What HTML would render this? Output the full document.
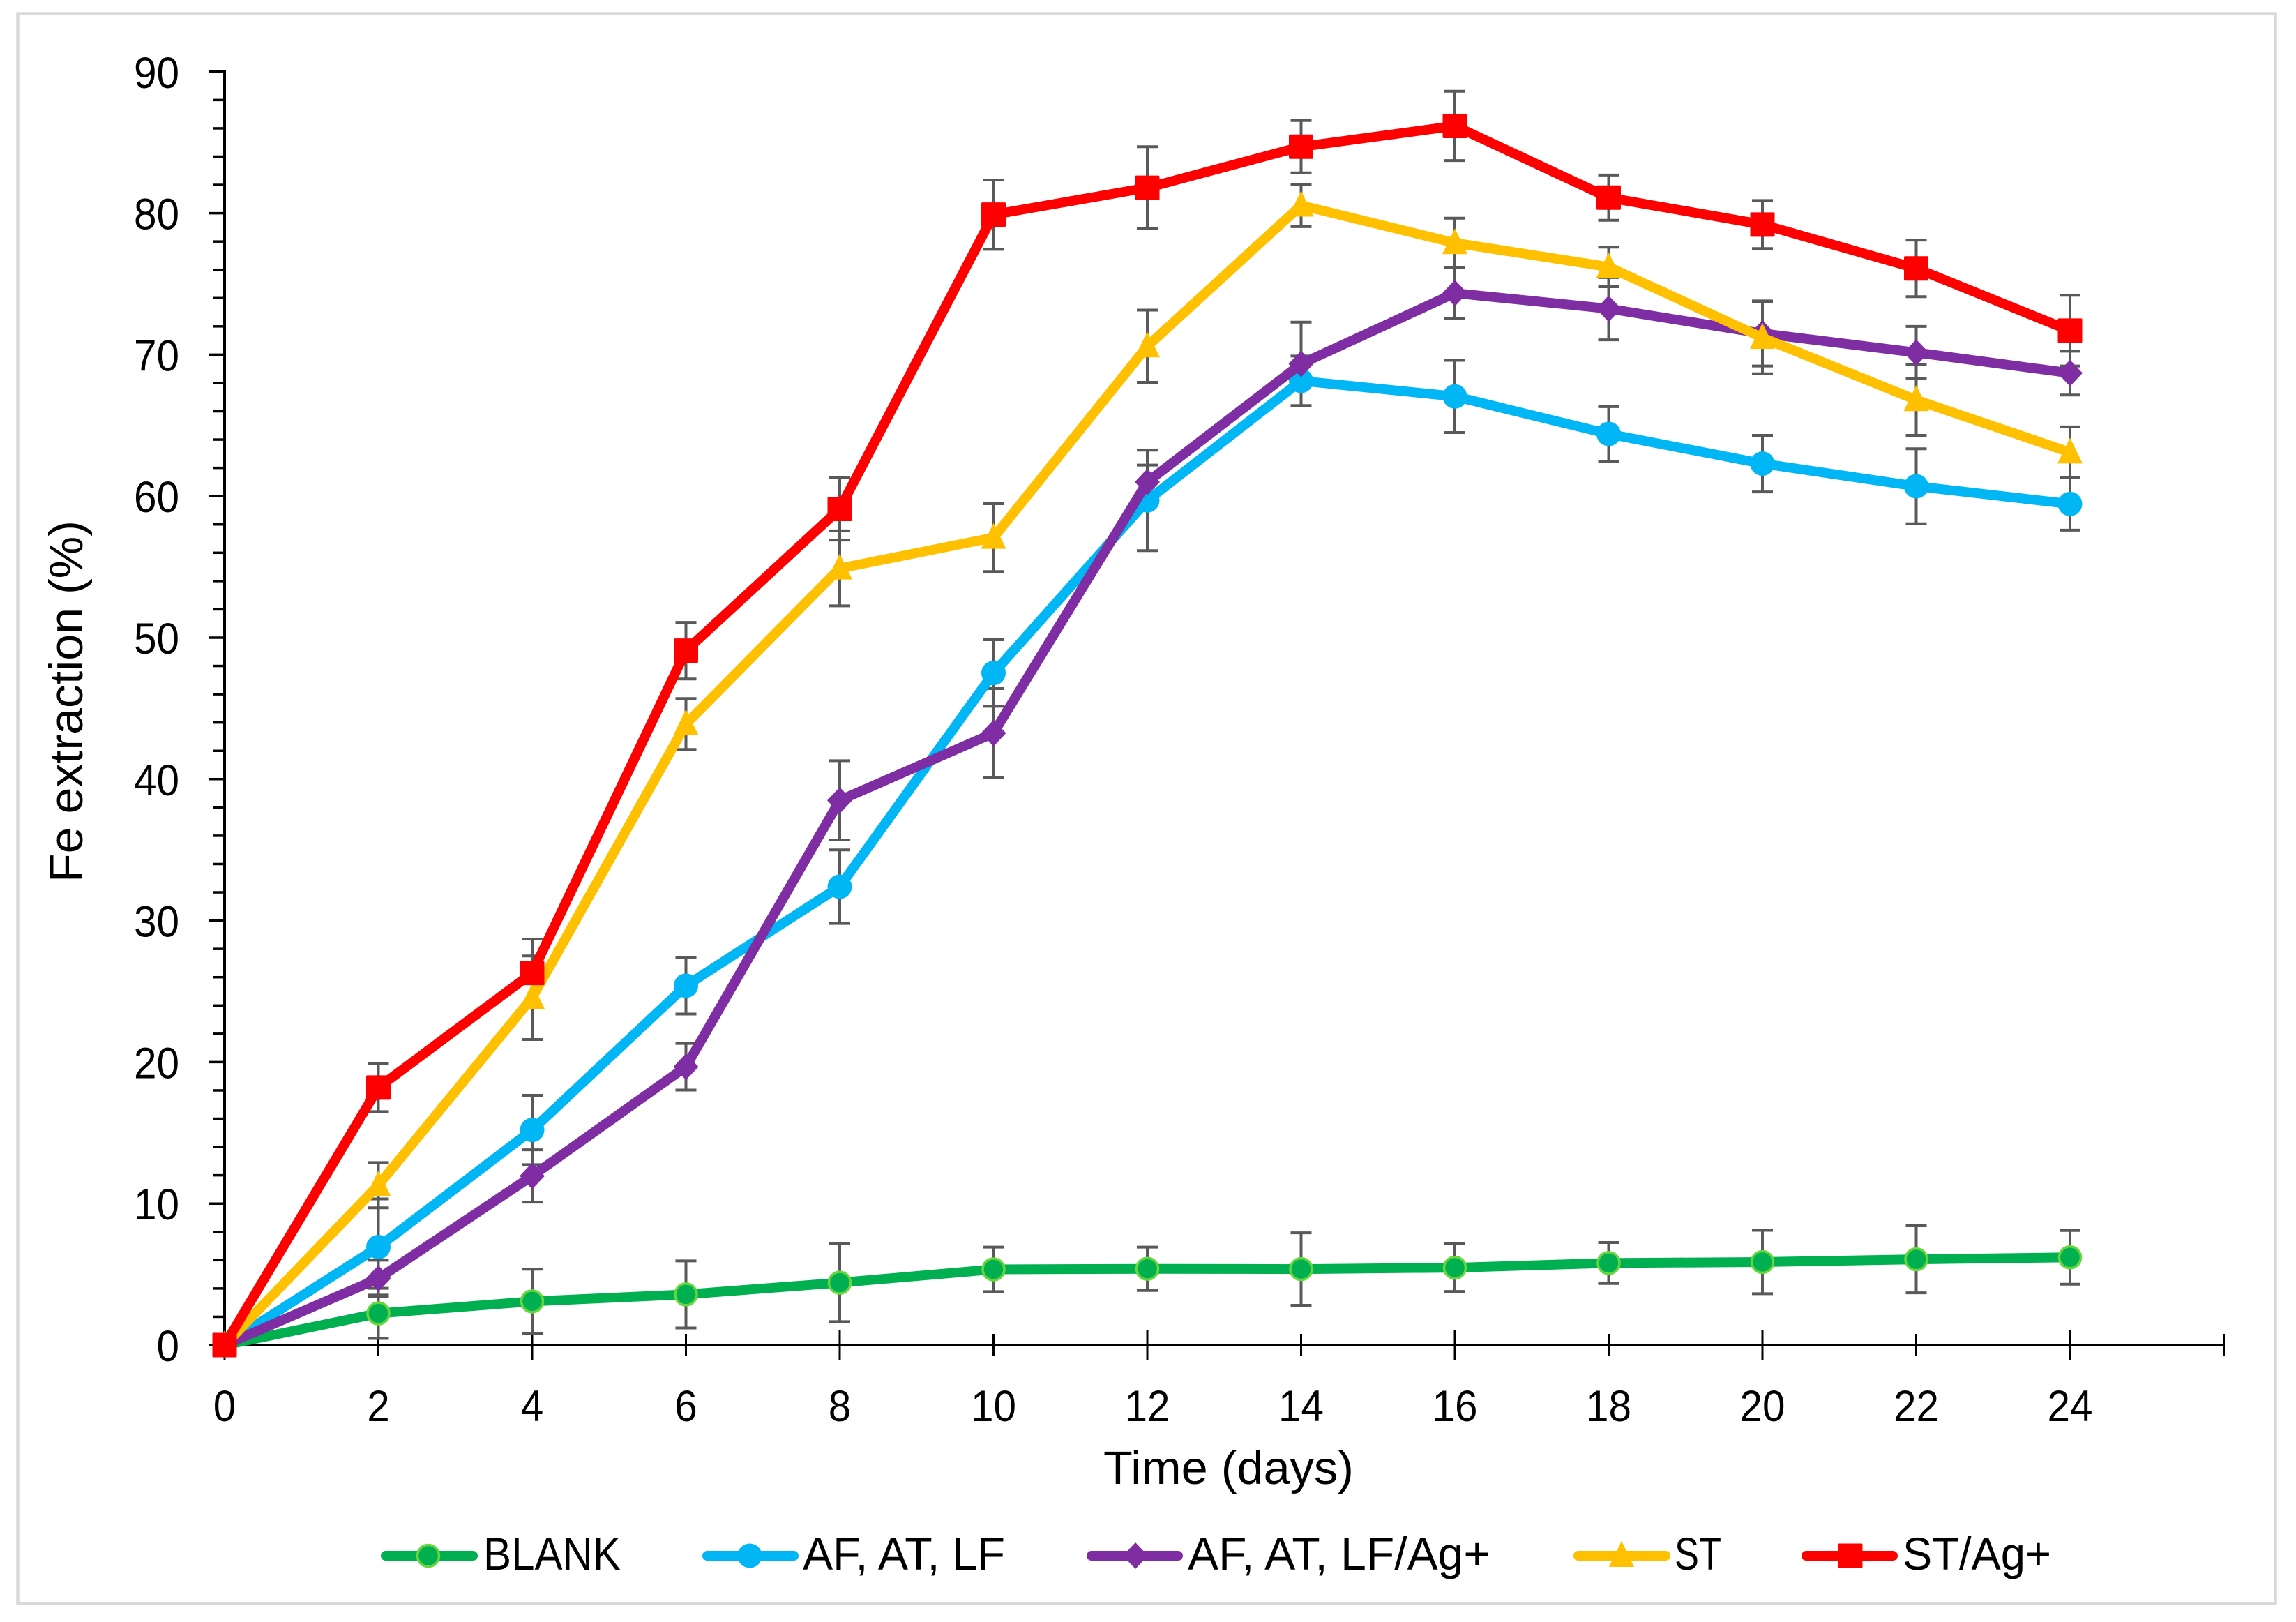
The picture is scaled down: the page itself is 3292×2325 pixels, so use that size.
<!DOCTYPE html>
<html lang="en">
<head>
<meta charset="utf-8">
<title>Fe extraction over time</title>
<style>
html,body{margin:0;padding:0;background:#fff;width:3292px;height:2325px;overflow:hidden}
svg{display:block}
text{font-family:"Liberation Sans",sans-serif;fill:#000}
</style>
</head>
<body>
<svg id="chart" xmlns="http://www.w3.org/2000/svg" width="3292" height="2325" viewBox="0 0 3292 2325">
  <rect x="0" y="0" width="3292" height="2325" fill="#fff"/>
  <rect x="25.5" y="19.5" width="3237" height="2279" fill="#fff" stroke="#d9d9d9" stroke-width="4.5"/>
  <g id="axes"></g>
  <g id="error-bars"></g>
  <g id="series"></g>
  <text x="1582" y="2127" font-size="67" textLength="359" lengthAdjust="spacingAndGlyphs">Time (days)</text>
  <text transform="translate(118 1265) rotate(-90)" font-size="68" textLength="519" lengthAdjust="spacingAndGlyphs">Fe extraction (%)</text>
  <g id="legend"></g>
</svg>
<script>
const days = [0, 2, 4, 6, 8, 10, 12, 14, 16, 18, 20, 22, 24];
const yTickLabels = [0, 10, 20, 30, 40, 50, 60, 70, 80, 90];
const xTickValues = [0, 2, 4, 6, 8, 10, 12, 14, 16, 18, 20, 22, 24, 26];
const xTickLabels = [0, 2, 4, 6, 8, 10, 12, 14, 16, 18, 20, 22, 24];

const blankValues = [0, 2.24, 3.09, 3.58, 4.41, 5.35, 5.39, 5.37, 5.47, 5.8, 5.87, 6.06, 6.2];
const blankErrors = [0, 1.77, 2.27, 2.37, 2.75, 1.57, 1.53, 2.56, 1.68, 1.45, 2.24, 2.37, 1.9];
const afValues = [0, 6.93, 15.2, 25.4, 32.4, 47.5, 59.7, 68.15, 67.05, 64.4, 62.3, 60.7, 59.45];
const afErrors = [0, 3.4, 2.45, 2.0, 2.6, 2.35, 3.55, 1.75, 2.55, 1.93, 2.0, 2.65, 1.85];
const afAgValues = [0, 4.7, 11.95, 19.67, 38.5, 43.25, 61.0, 69.35, 74.35, 73.25, 71.5, 70.15, 68.7];
const afAgErrors = [0, 1.3, 1.85, 1.65, 2.8, 3.15, 1.2, 2.95, 1.8, 2.2, 2.3, 1.85, 1.55];
const stValues = [0, 11.3, 24.55, 43.9, 54.9, 57.07, 70.6, 80.55, 77.9, 76.2, 71.2, 66.8, 63.1];
const stErrors = [0, 1.6, 2.95, 1.8, 2.65, 2.4, 2.55, 1.5, 1.75, 1.4, 2.55, 2.5, 1.8];
const stAgValues = [0, 18.2, 26.3, 49.08, 59.1, 79.9, 81.8, 84.7, 86.17, 81.1, 79.2, 76.1, 71.7];
const stAgErrors = [0, 1.7, 2.4, 2.0, 2.2, 2.45, 2.9, 1.85, 2.45, 1.6, 1.7, 2.0, 2.5];

const SVG_NS = 'http://www.w3.org/2000/svg';
const X0 = 322, PX_PER_DAY = 110.25, Y0 = 1928, PX_PER_UNIT = 20.28;
const DIGIT_WIDTH = 32.5;
function xScale(day) { return X0 + day * PX_PER_DAY; }
function yScale(v) { return Y0 - v * PX_PER_UNIT; }

function make(tag, attrs) {
  const n = document.createElementNS(SVG_NS, tag);
  for (const k in attrs) n.setAttribute(k, attrs[k]);
  return n;
}

function markerShape(kind, cx, cy, color) {
  if (kind === 'blank') return make('circle', { cx: cx, cy: cy, r: 15.5, fill: '#00B050', stroke: '#66D63C', 'stroke-width': 3.5 });
  if (kind === 'circle') return make('circle', { cx: cx, cy: cy, r: 17.5, fill: color });
  if (kind === 'diamond') return make('polygon', { points: [cx, cy - 19, cx + 18, cy, cx, cy + 19, cx - 18, cy].join(' '), fill: color });
  if (kind === 'triangle') return make('polygon', { points: [cx, cy - 21, cx + 18, cy + 16, cx - 18, cy + 16].join(' '), fill: color });
  return make('rect', { x: cx - 17.5, y: cy - 17.5, width: 35, height: 35, rx: 1.5, fill: color });
}

const axes = document.getElementById('axes');
const errorLayer = document.getElementById('error-bars');
const seriesLayer = document.getElementById('series');
const legend = document.getElementById('legend');

const yAxisLine = make('line', { x1: X0, x2: X0, y1: yScale(90) - 2, y2: yScale(0) + 2, stroke: '#000', 'stroke-width': 4 });


axes.appendChild(yAxisLine);

const xAxisLine = make('line', { x1: X0, x2: xScale(26), y1: Y0, y2: Y0, stroke: '#000', 'stroke-width': 4 });


axes.appendChild(xAxisLine);

for (let v = 0; v <= 90; v += 2) {
  const major = v % 10 === 0;
  const tick = make('line', { x1: major ? 300 : 306, x2: X0, y1: yScale(v), y2: yScale(v), stroke: '#000', 'stroke-width': 3.5 });
  
  
  axes.appendChild(tick);
}

yTickLabels.forEach(function (v) {
  const s = String(v);
  const label = make('text', { x: 257, y: yScale(v) + 23, 'text-anchor': 'end', 'font-size': 63, textLength: s.length * DIGIT_WIDTH, lengthAdjust: 'spacingAndGlyphs' });
  label.textContent = s;
  
  
  axes.appendChild(label);
});

xTickValues.forEach(function (d, i) {
  const long = i % 2 === 0;
  const tick = make('line', { x1: xScale(d), x2: xScale(d), y1: long ? 1907 : 1912, y2: long ? 1949 : 1944, stroke: '#000', 'stroke-width': 3 });
  
  
  axes.appendChild(tick);
});

xTickLabels.forEach(function (d) {
  const s = String(d);
  const label = make('text', { x: xScale(d), y: 2037, 'text-anchor': 'middle', 'font-size': 63, textLength: s.length * DIGIT_WIDTH, lengthAdjust: 'spacingAndGlyphs' });
  label.textContent = s;
  
  
  axes.appendChild(label);
});

function drawErrors(values, errors, seriesName) {
  const group = make('g', {});
  
  
  values.forEach(function (v, i) {
    const e = errors[i];
    if (!e) return;
    const x = xScale(days[i]), top = yScale(v + e), bottom = yScale(v - e);
    const d = 'M' + x + ' ' + top + 'V' + bottom +
      'M' + (x - 15) + ' ' + top + 'H' + (x + 15) +
      'M' + (x - 15) + ' ' + bottom + 'H' + (x + 15);
    const bar = make('path', { d: d, fill: 'none', stroke: '#595959', 'stroke-width': 4 });
    
    
    group.appendChild(bar);
  });
  errorLayer.appendChild(group);
}

function drawSeries(values, kind, color, seriesName) {
  const group = make('g', {});
  
  
  const pts = values.map(function (v, i) { return xScale(days[i]) + ',' + yScale(v); }).join(' ');
  const line = make('polyline', { points: pts, fill: 'none', stroke: color, 'stroke-width': 14, 'stroke-linejoin': 'round', 'stroke-linecap': 'round' });
  
  
  group.appendChild(line);
  values.forEach(function (v, i) {
    const m = markerShape(kind, xScale(days[i]), yScale(v), color);
    
    
    group.appendChild(m);
  });
  seriesLayer.appendChild(group);
}

function drawLegendEntry(label, kind, color, lineX1, lineX2, markerX, textX, textLen, entryName) {
  const group = make('g', {});
  
  
  const line = make('line', { x1: lineX1 + 7, x2: lineX2 - 7, y1: 2230, y2: 2230, stroke: color, 'stroke-width': 14, 'stroke-linecap': 'round' });
  
  
  group.appendChild(line);
  const m = markerShape(kind, markerX, 2230, color);
  
  
  group.appendChild(m);
  const t = make('text', { x: textX, y: 2250, 'font-size': 66, textLength: textLen, lengthAdjust: 'spacingAndGlyphs' });
  t.textContent = label;
  
  
  group.appendChild(t);
  legend.appendChild(group);
}

drawErrors(blankValues, blankErrors, 'blank');
drawErrors(afValues, afErrors, 'af-at-lf');
drawErrors(afAgValues, afAgErrors, 'af-at-lf-ag');
drawErrors(stValues, stErrors, 'st');
drawErrors(stAgValues, stAgErrors, 'st-ag');

drawSeries(blankValues, 'blank', '#00B050', 'blank');
drawSeries(afValues, 'circle', '#00B6F5', 'af-at-lf');
drawSeries(afAgValues, 'diamond', '#7F2DA3', 'af-at-lf-ag');
drawSeries(stValues, 'triangle', '#FFC000', 'st');
drawSeries(stAgValues, 'square', '#FF0000', 'st-ag');

drawLegendEntry('BLANK', 'blank', '#00B050', 546, 685, 614, 693, 197, 'legend-entry-blank');
drawLegendEntry('AF, AT, LF', 'circle', '#00B6F5', 1007, 1145, 1075, 1151, 290, 'legend-entry-af-at-lf');
drawLegendEntry('AF, AT, LF/Ag+', 'diamond', '#7F2DA3', 1558, 1696, 1628, 1703, 434, 'legend-entry-af-at-lf-ag');
drawLegendEntry('ST', 'triangle', '#FFC000', 2256, 2395, 2325, 2401, 67, 'legend-entry-st');
drawLegendEntry('ST/Ag+', 'square', '#FF0000', 2583, 2721, 2653, 2728, 213, 'legend-entry-st-ag');
</script>
</body>
</html>
